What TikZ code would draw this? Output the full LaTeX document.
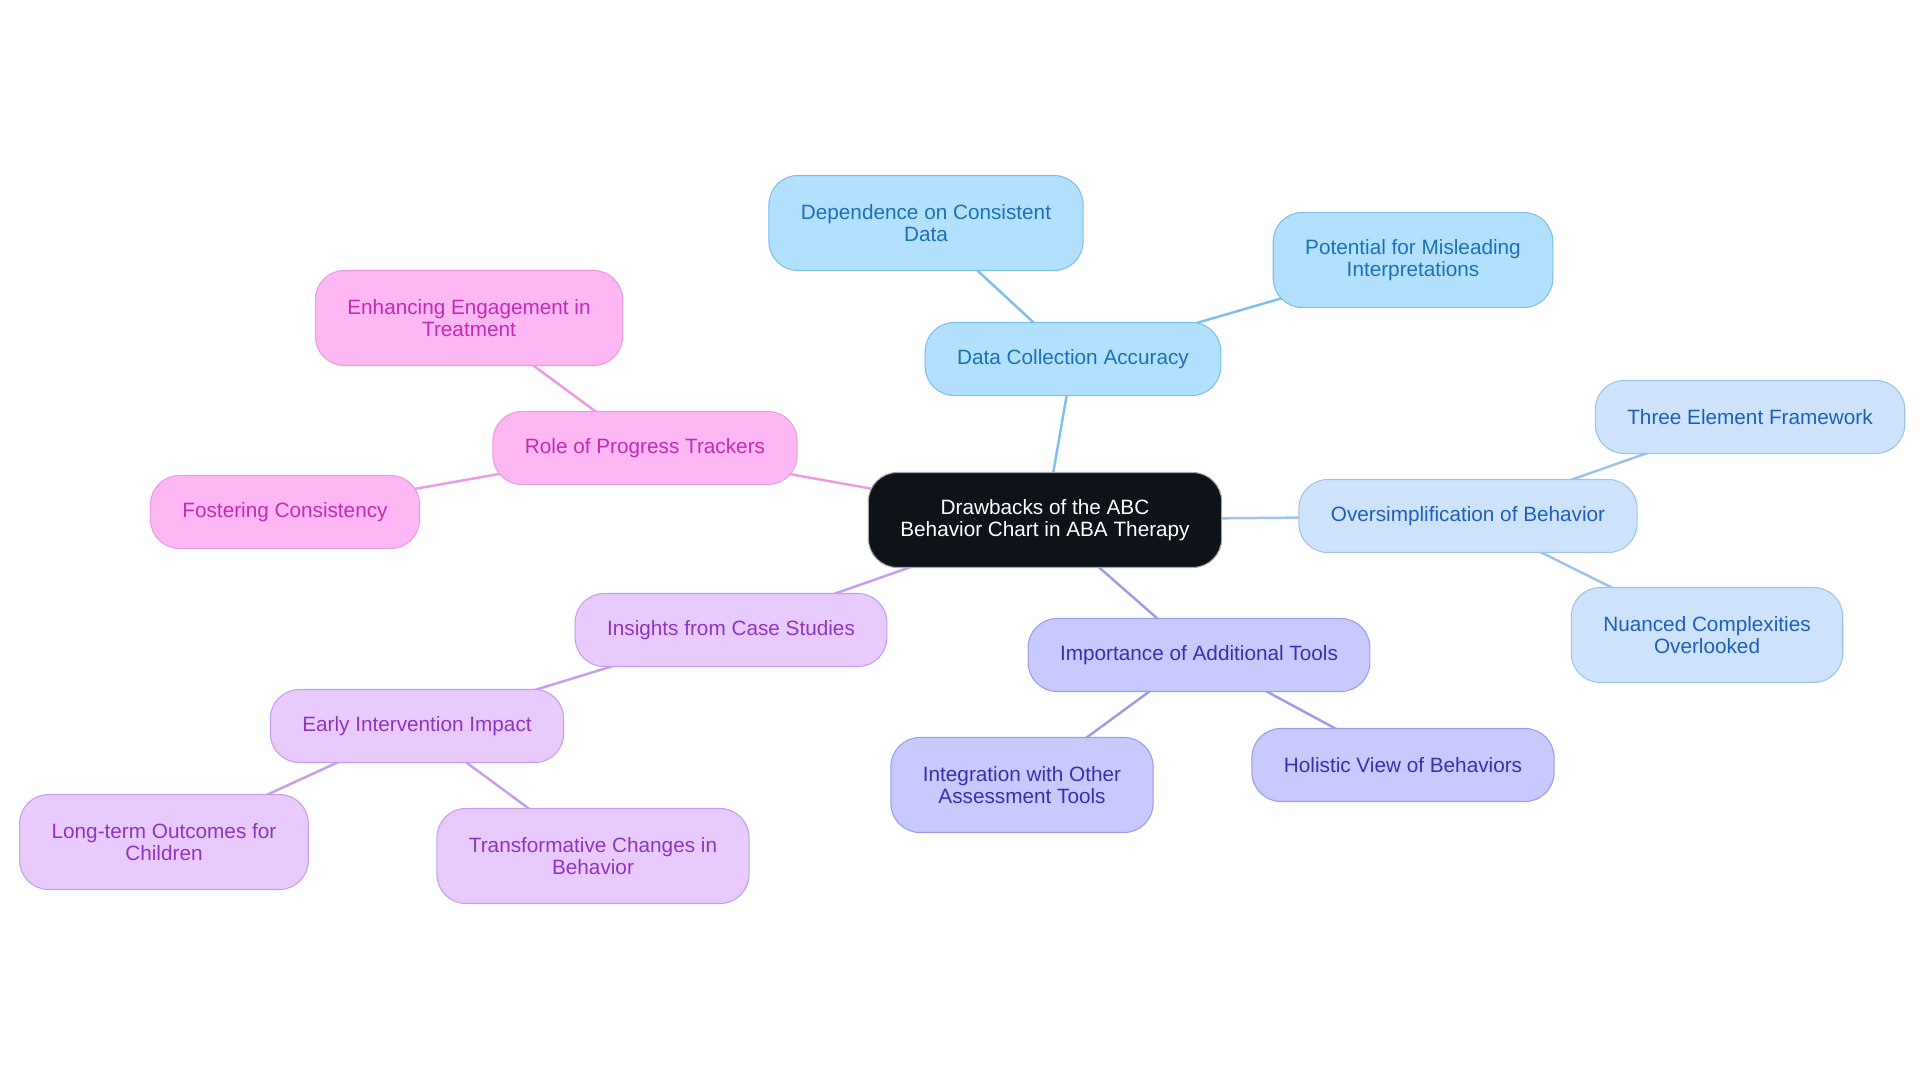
\documentclass[tikz,border=0pt]{standalone}
\usepackage{fontspec}
\setmainfont{Liberation Sans}
\usetikzlibrary{backgrounds}
\definecolor{rootbg}{HTML}{0E131A}
\definecolor{skyfill}{HTML}{B3E0FD}\definecolor{skyline}{HTML}{7DC0EA}\definecolor{skytext}{HTML}{1A72B5}
\definecolor{icefill}{HTML}{CDE3FC}\definecolor{iceline}{HTML}{9DC3EB}\definecolor{icetext}{HTML}{1F5FB5}
\definecolor{perifill}{HTML}{C8C9FD}\definecolor{periline}{HTML}{9D9CE6}\definecolor{peritext}{HTML}{3A30AE}
\definecolor{lilafill}{HTML}{E8CBFC}\definecolor{lilaline}{HTML}{C89EEB}\definecolor{lilatext}{HTML}{8E35C0}
\definecolor{pinkfill}{HTML}{FDB7F3}\definecolor{pinkline}{HTML}{EB9CE0}\definecolor{pinktext}{HTML}{C22CB4}
\begin{document}
\begin{tikzpicture}[every node/.style={font=\fontsize{11.8}{12.2}\selectfont}, topic/.style={draw, line width=0.6pt, rounded corners=5.8mm, minimum height=14.6mm, inner xsep=6.4mm, inner ysep=4.8mm, align=center}, tall/.style={minimum height=19mm}, link/.style={line width=1.4pt}]
\useasboundingbox (0,0) rectangle (38.4,-21.66);
\node[topic, tall, fill=rootbg, draw=gray!70, text=white, inner xsep=6.4mm] (root) at (20.90,-10.40) {Drawbacks of the ABC \\ Behavior Chart in ABA Therapy};
% data collection branch
\node[topic, fill=skyfill, draw=skyline, text=skytext] (dca) at (21.46,-7.18) {Data Collection Accuracy};
\node[topic, tall, fill=skyfill, draw=skyline, text=skytext] (dep) at (18.52,-4.46) {Dependence on Consistent \\ Data};
\node[topic, tall, fill=skyfill, draw=skyline, text=skytext] (mis) at (28.26,-5.20) {Potential for Misleading \\ Interpretations};
% oversimplification branch
\node[topic, fill=icefill, draw=iceline, text=icetext] (ovs) at (29.36,-10.32) {Oversimplification of Behavior};
\node[topic, fill=icefill, draw=iceline, text=icetext] (tef) at (35.00,-8.34) {Three Element Framework};
\node[topic, tall, fill=icefill, draw=iceline, text=icetext] (nco) at (34.14,-12.70) {Nuanced Complexities \\ Overlooked};
% additional tools branch
\node[topic, fill=perifill, draw=periline, text=peritext] (iat) at (23.98,-13.10) {Importance of Additional Tools};
\node[topic, tall, fill=perifill, draw=periline, text=peritext] (iwo) at (20.44,-15.70) {Integration with Other \\ Assessment Tools};
\node[topic, fill=perifill, draw=periline, text=peritext] (hvb) at (28.06,-15.30) {Holistic View of Behaviors};
% case studies branch
\node[topic, fill=lilafill, draw=lilaline, text=lilatext] (ics) at (14.62,-12.60) {Insights from Case Studies};
\node[topic, fill=lilafill, draw=lilaline, text=lilatext] (eii) at (8.34,-14.52) {Early Intervention Impact};
\node[topic, tall, fill=lilafill, draw=lilaline, text=lilatext] (lto) at (3.28,-16.84) {Long-term Outcomes for \\ Children};
\node[topic, tall, fill=lilafill, draw=lilaline, text=lilatext] (tcb) at (11.86,-17.12) {Transformative Changes in \\ Behavior};
% progress trackers branch
\node[topic, fill=pinkfill, draw=pinkline, text=pinktext] (rpt) at (12.90,-8.96) {Role of Progress Trackers};
\node[topic, tall, fill=pinkfill, draw=pinkline, text=pinktext] (eet) at (9.38,-6.36) {Enhancing Engagement in \\ Treatment};
\node[topic, fill=pinkfill, draw=pinkline, text=pinktext] (fco) at (5.70,-10.24) {Fostering Consistency};
\begin{scope}[on background layer]
\draw[link, skyline] (root.center) -- (dca.center);
\draw[link, skyline] (dca.center) -- (dep.center);
\draw[link, skyline] (dca.center) -- (mis.center);
\draw[link, iceline] (root.center) -- (ovs.center);
\draw[link, iceline] (ovs.center) -- (tef.center);
\draw[link, iceline] (ovs.center) -- (nco.center);
\draw[link, periline] (root.center) -- (iat.center);
\draw[link, periline] (iat.center) -- (iwo.center);
\draw[link, periline] (iat.center) -- (hvb.center);
\draw[link, lilaline] (root.center) -- (ics.center);
\draw[link, lilaline] (ics.center) -- (eii.center);
\draw[link, lilaline] (eii.center) -- (lto.center);
\draw[link, lilaline] (eii.center) -- (tcb.center);
\draw[link, pinkline] (root.center) -- (rpt.center);
\draw[link, pinkline] (rpt.center) -- (eet.center);
\draw[link, pinkline] (rpt.center) -- (fco.center);
\end{scope}
\end{tikzpicture}
\end{document}
